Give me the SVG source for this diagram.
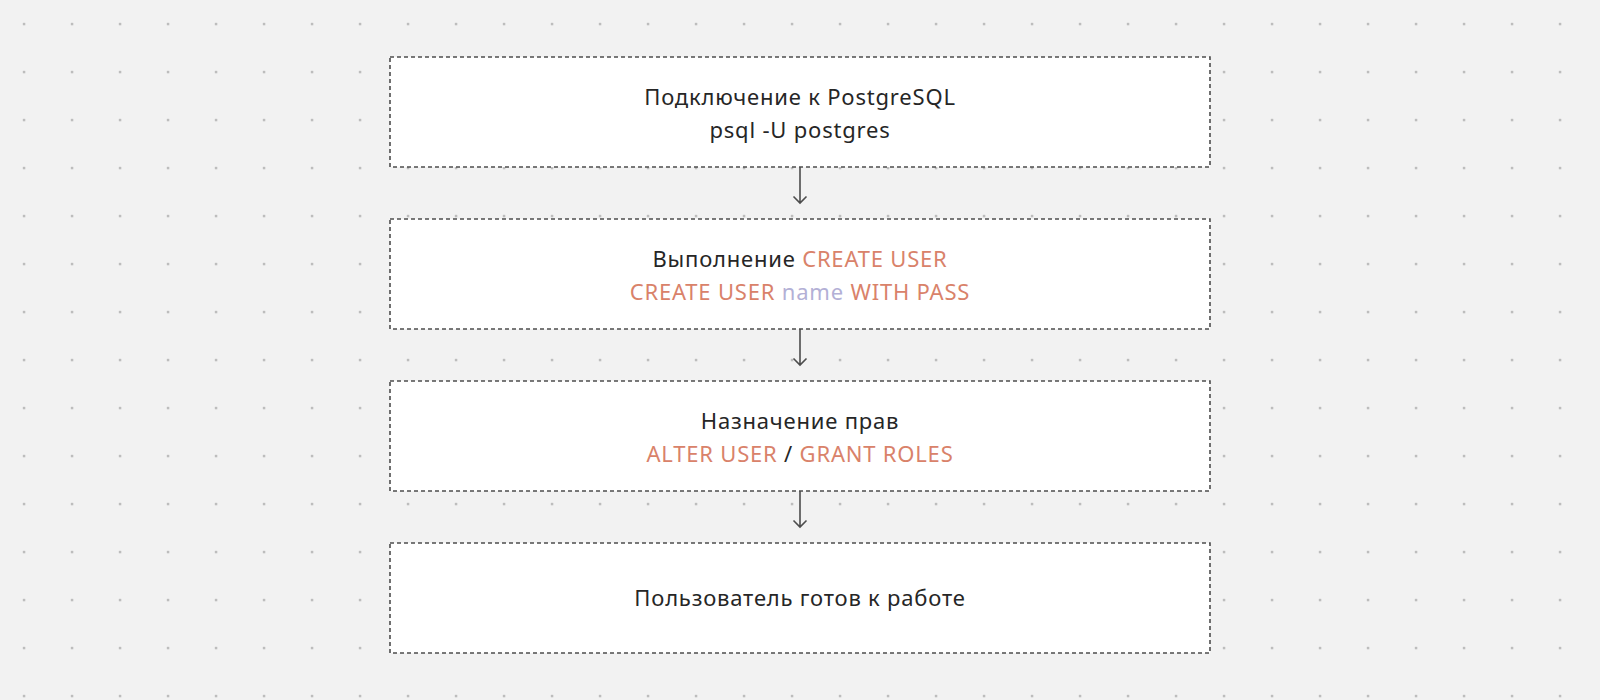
<svg xmlns="http://www.w3.org/2000/svg" width="1600" height="700" viewBox="0 0 1600 700">
<defs>
<pattern id="dots" x="0" y="0" width="48" height="48" patternUnits="userSpaceOnUse">
<rect x="22.8" y="22.8" width="2.5" height="2.5" fill="#bdbdbd"/>
</pattern>
<style>
.box{fill:#ffffff;stroke:#4d4d4d;stroke-width:1.6;stroke-dasharray:4 3}
.t{font-family:"Noto Sans","Open Sans","DejaVu Sans",sans-serif;font-size:22px;letter-spacing:0.8px;fill:#262626;text-anchor:middle}
.k{fill:#d9826a}
.v{fill:#b3b0d6}
.c{stroke:#4d4d4d;stroke-width:1.6;fill:none}
</style>
</defs>
<rect width="1600" height="700" fill="#f2f2f2"/>
<rect width="1600" height="700" fill="url(#dots)"/>
<g id="connectors">
<path class="c" d="M800 167V203M793.5 196.5L800 203L806.5 196.5"/>
<path class="c" d="M800 329V365M793.5 358.5L800 365L806.5 358.5"/>
<path class="c" d="M800 491V527M793.5 520.5L800 527L806.5 520.5"/>
</g>
<g id="node1">
<rect class="box" x="390" y="57" width="820" height="110"/>
<text class="t" x="800" y="105">Подключение к PostgreSQL</text>
<text class="t" x="800" y="138">psql -U postgres</text>
</g>
<g id="node2">
<rect class="box" x="390" y="219" width="820" height="110"/>
<text class="t" x="800" y="267">Выполнение <tspan class="k">CREATE USER</tspan></text>
<text class="t" x="800" y="300"><tspan class="k">CREATE USER</tspan> <tspan class="v">name</tspan> <tspan class="k">WITH PASS</tspan></text>
</g>
<g id="node3">
<rect class="box" x="390" y="381" width="820" height="110"/>
<text class="t" x="800" y="429">Назначение прав</text>
<text class="t" x="800" y="462"><tspan class="k">ALTER USER</tspan> / <tspan class="k">GRANT ROLES</tspan></text>
</g>
<g id="node4">
<rect class="box" x="390" y="543" width="820" height="110"/>
<text class="t" x="800" y="606">Пользователь готов к работе</text>
</g>
</svg>
